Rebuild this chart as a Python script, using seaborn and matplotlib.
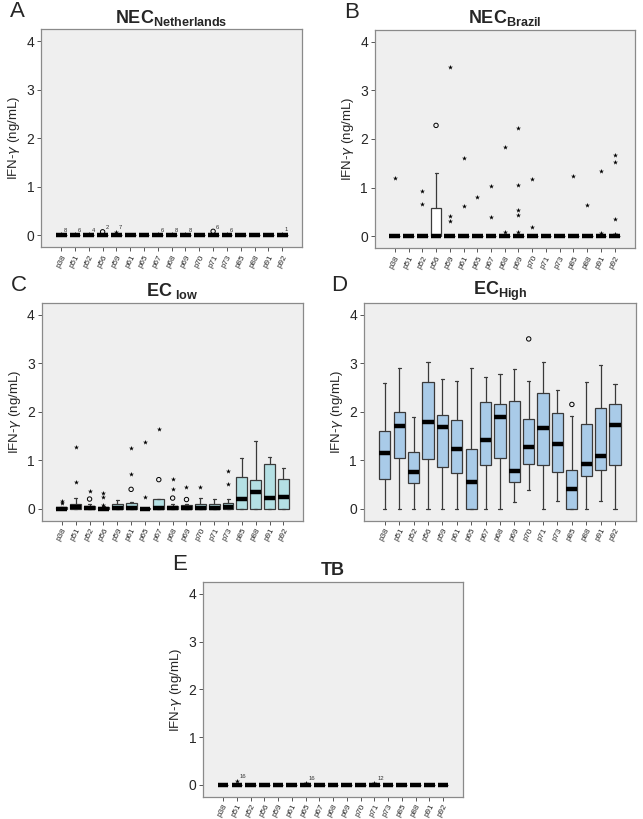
import numpy as np
import matplotlib
matplotlib.use("Agg")
import matplotlib.pyplot as plt
import seaborn as sns

# categories (peptides)
peptides = ['p38', 'p51', 'p52', 'p56', 'p59', 'p61', 'p65', 'p67', 'p68',
            'p69', 'p70', 'p71', 'p73', 'p85', 'p88', 'p91', 'p92']
n = len(peptides)
zeros = [0.0] * n

# A: NEC Netherlands - all flat at 0
a_q1, a_med, a_q3, a_lo, a_hi = zeros, zeros, zeros, zeros, zeros
a_circ_x = ['p56', 'p71']
a_circ_y = [0.07, 0.08]
a_star_x = ['p38', 'p51', 'p52', 'p59', 'p67', 'p68', 'p69', 'p73', 'p92']
a_star_y = [0.02, 0.02, 0.02, 0.07, 0.02, 0.02, 0.02, 0.02, 0.03]
a_lab_x = ['p38', 'p51', 'p52', 'p56', 'p59', 'p67', 'p68', 'p69', 'p71', 'p73', 'p92']
a_lab_y = [0.02, 0.02, 0.02, 0.07, 0.07, 0.02, 0.02, 0.02, 0.08, 0.02, 0.03]
a_lab_t = ['8', '6', '4', '2', '7', '6', '8', '8', '6', '6', '1']

# B: NEC Brazil
b_q1 = zeros
b_med = zeros
b_q3 = [0, 0, 0, 0.58, 0, 0, 0, 0, 0, 0, 0, 0, 0, 0, 0, 0, 0]
b_lo = zeros
b_hi = [0, 0, 0, 1.29, 0, 0, 0, 0, 0, 0, 0, 0, 0, 0, 0, 0, 0]
b_circ_x = ['p56']
b_circ_y = [2.28]
b_star_x = ['p38', 'p52', 'p52', 'p59', 'p59', 'p59', 'p61', 'p61', 'p65',
            'p67', 'p67', 'p68', 'p68', 'p69', 'p69', 'p69', 'p69', 'p69',
            'p70', 'p70', 'p85', 'p88', 'p91', 'p91', 'p92', 'p92', 'p92', 'p92']
b_star_y = [1.19, 0.93, 0.66, 3.48, 0.42, 0.31, 1.61, 0.62, 0.80,
            1.03, 0.39, 1.84, 0.09, 2.22, 1.05, 0.53, 0.43, 0.08,
            1.18, 0.19, 1.24, 0.64, 1.35, 0.06, 1.67, 1.53, 0.35, 0.05]

# C: EC low
c_q1 = zeros
c_med = [0.0, 0.03, 0.02, 0.0, 0.01, 0.01, 0.0, 0.01, 0.02, 0.02, 0.02,
         0.01, 0.04, 0.20, 0.35, 0.22, 0.24]
c_q3 = [0.03, 0.10, 0.05, 0.03, 0.10, 0.11, 0.02, 0.20, 0.05, 0.07, 0.09,
        0.09, 0.11, 0.66, 0.60, 0.93, 0.62]
c_lo = zeros
c_hi = [0.03, 0.22, 0.10, 0.05, 0.18, 0.13, 0.02, 0.21, 0.10, 0.10, 0.22,
        0.20, 0.21, 1.04, 1.39, 1.06, 0.83]
c_circ_x = ['p52', 'p61', 'p67', 'p68', 'p69']
c_circ_y = [0.20, 0.40, 0.60, 0.22, 0.19]
c_star_x = ['p38', 'p38', 'p51', 'p51', 'p52', 'p56', 'p56', 'p56', 'p61',
            'p61', 'p65', 'p65', 'p67', 'p68', 'p68', 'p69', 'p70', 'p73', 'p73']
c_star_y = [0.16, 0.12, 1.27, 0.56, 0.37, 0.33, 0.25, 0.07, 1.25,
            0.71, 1.37, 0.24, 1.65, 0.62, 0.40, 0.45, 0.45, 0.77, 0.51]

# D: EC high
d_q1 = [0.61, 1.04, 0.54, 1.03, 0.86, 0.73, 0.0, 0.90, 1.05, 0.56, 0.93,
        0.90, 0.75, 0.0, 0.68, 0.80, 0.90]
d_med = [1.15, 1.71, 0.76, 1.78, 1.68, 1.23, 0.55, 1.41, 1.89, 0.78, 1.27,
         1.66, 1.34, 0.40, 0.93, 1.09, 1.72]
d_q3 = [1.61, 2.00, 1.16, 2.61, 1.94, 1.83, 1.23, 2.19, 2.16, 2.23, 1.86,
        2.38, 1.97, 0.80, 1.74, 2.07, 2.15]
d_lo = [0, 0, 0, 0, 0, 0, 0, 0, 0, 0.14, 0.38, 0, 0.15, 0, 0, 0.17, 0]
d_hi = [2.60, 2.90, 1.89, 3.03, 2.68, 2.63, 2.90, 2.72, 2.77, 2.89, 2.63,
        3.02, 2.45, 1.91, 2.61, 2.96, 2.57]
d_circ_x = ['p70', 'p85']
d_circ_y = [3.50, 2.15]
d_star_x, d_star_y = [], []

# E: TB
e_q1, e_med, e_q3, e_lo, e_hi = zeros, zeros, zeros, zeros, zeros
e_circ_x, e_circ_y = [], []
e_star_x = ['p51', 'p65', 'p71']
e_star_y = [0.09, 0.05, 0.05]
e_lab_x = e_star_x
e_lab_y = e_star_y
e_lab_t = ['16', '16', '12']

sns.set_style("ticks")
plt.rcParams['font.family'] = ['Liberation Sans', 'DejaVu Sans']
plt.rcParams['mathtext.fontset'] = 'custom'
plt.rcParams['mathtext.rm'] = 'Liberation Sans'
plt.rcParams['mathtext.bf'] = 'Liberation Sans:bold'

fig = plt.figure(figsize=(6.43, 8.19), dpi=100)

panels = [
    dict(letter='A', title=r'$\mathbf{NEC_{Netherlands}}$', rect=[0.064, 0.698, 0.406, 0.266],
         q1=a_q1, med=a_med, q3=a_q3, lo=a_lo, hi=a_hi, color='white',
         cx=a_circ_x, cy=a_circ_y, sx=a_star_x, sy=a_star_y,
         lx=a_lab_x, ly=a_lab_y, lt=a_lab_t),
    dict(letter='B', title=r'$\mathbf{NEC_{Brazil}}$', rect=[0.583, 0.697, 0.404, 0.266],
         q1=b_q1, med=b_med, q3=b_q3, lo=b_lo, hi=b_hi, color='white',
         cx=b_circ_x, cy=b_circ_y, sx=b_star_x, sy=b_star_y),
    dict(letter='C', title=r'$\mathbf{EC}_{\ \mathbf{low}}$', rect=[0.065, 0.364, 0.407, 0.266],
         q1=c_q1, med=c_med, q3=c_q3, lo=c_lo, hi=c_hi, color='#b4e0e4',
         cx=c_circ_x, cy=c_circ_y, sx=c_star_x, sy=c_star_y),
    dict(letter='D', title=r'$\mathbf{EC_{High}}$', rect=[0.566, 0.364, 0.423, 0.266],
         q1=d_q1, med=d_med, q3=d_q3, lo=d_lo, hi=d_hi, color='#a9cbe8',
         cx=d_circ_x, cy=d_circ_y, sx=d_star_x, sy=d_star_y),
    dict(letter='E', title=r'$\mathbf{TB}$', rect=[0.316, 0.027, 0.404, 0.262],
         q1=e_q1, med=e_med, q3=e_q3, lo=e_lo, hi=e_hi, color='white',
         cx=e_circ_x, cy=e_circ_y, sx=e_star_x, sy=e_star_y,
         lx=e_lab_x, ly=e_lab_y, lt=e_lab_t),
]

pos = {p: i for i, p in enumerate(peptides)}

for p in panels:
    ax = fig.add_axes(p['rect'])
    ax.set_facecolor('#efefef')
    stats = []
    for i in range(n):
        stats.append(dict(q1=p['q1'][i], med=p['med'][i], q3=p['q3'][i],
                          whislo=p['lo'][i], whishi=p['hi'][i], fliers=[]))
    ax.bxp(stats, positions=range(n), widths=0.78, patch_artist=True,
           showfliers=False, capwidths=0.22,
           boxprops=dict(facecolor=p['color'], edgecolor='#3a3a3a', linewidth=0.9),
           medianprops=dict(color='black', linewidth=3.2, solid_capstyle='butt'),
           whiskerprops=dict(color='#3a3a3a', linewidth=0.9),
           capprops=dict(color='#3a3a3a', linewidth=0.9))
    if p['cx']:
        ax.scatter([pos[x] for x in p['cx']], p['cy'], s=10, facecolors='none',
                   edgecolors='black', linewidths=0.7, zorder=4)
    if p['sx']:
        ax.scatter([pos[x] for x in p['sx']], p['sy'], s=14, marker='*',
                   color='black', linewidths=0, zorder=4)
    if 'lx' in p:
        for x, y, t in zip(p['lx'], p['ly'], p['lt']):
            ax.text(pos[x] + 0.2, y + 0.03, t, fontsize=4.2, color='#333333',
                    ha='left', va='bottom')
    ax.set_xlim(-1.45, n - 1 + 1.45)
    ax.set_ylim(-0.25, 4.24)
    ax.set_yticks([0, 1, 2, 3, 4])
    ax.set_yticklabels(['0', '1', '2', '3', '4'], fontsize=10)
    ax.set_xticks(range(n))
    ax.set_xticklabels(peptides, fontsize=5.8, rotation=62, ha='right',
                       rotation_mode='anchor')
    ax.tick_params(axis='both', length=3, width=0.7, color='#555555', pad=2)
    ax.tick_params(axis='x', pad=1.5)
    for s in ax.spines.values():
        s.set_color('#8a8a8a')
        s.set_linewidth(0.9)
    ax.set_ylabel(r'IFN-$\gamma$ (ng/mL)', fontsize=9.5, labelpad=3)
    ax.set_title(p['title'], fontsize=13, pad=5)
    ax.text(-0.12, 1.13, p['letter'], transform=ax.transAxes, fontsize=16,
            ha='left', va='top')

fig.savefig('out.png', dpi=100)
